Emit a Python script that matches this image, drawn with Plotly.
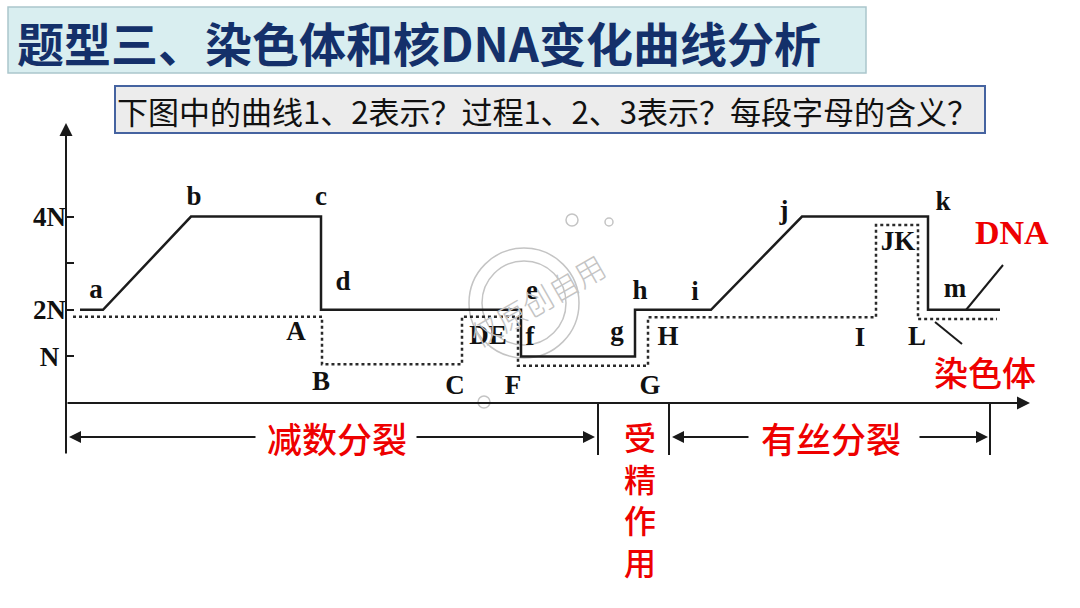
import plotly.graph_objects as go

# ---------------- data (x: time units, y: multiples of N) ----------------
dna_x = [1.4, 3.7, 12.5, 25.5, 25.5, 45.5, 45.5, 56.9, 56.9, 64.5, 73.6, 86.2, 86.2, 93.4]
dna_y = [2, 2, 4, 4, 2, 2, 1, 1, 2, 2, 4, 4, 2, 2]

chrom_x = [0.7, 25.6, 25.6, 39.6, 39.6, 45.2, 45.2, 58.2, 58.2, 81.0, 81.0, 85.2, 85.2, 93.1]
chrom_y = [1.85, 1.85, 0.83, 0.83, 1.85, 1.85, 0.80, 0.80, 1.84, 1.84, 3.82, 3.82, 1.80, 1.80]

y_tick_vals = [1, 2, 3, 4]
y_tick_text = ["N ", "2N", "", "4N"]

letters = ["a", "b", "c", "d", "A", "B", "C", "DE", "e", "f", "F", "g", "h", "H", "G",
           "i", "j", "k", "JK", "I", "L", "m"]
letter_x = [3.0, 12.8, 25.5, 27.7, 23.0, 25.5, 38.9, 42.2, 46.6, 46.4, 44.7, 55.1, 57.4, 60.2, 58.4,
            62.9, 71.8, 87.7, 83.2, 79.4, 85.1, 88.9]
letter_y = [2.40, 4.40, 4.40, 2.58, 1.50, 0.43, 0.34, 1.42, 2.38, 1.39, 0.34, 1.50, 2.38, 1.39, 0.34,
            2.36, 4.10, 4.29, 3.43, 1.37, 1.39, 2.42]

phase_bounds = [0.0, 53.2, 60.3, 92.4]
title_text = "题型三、染色体和核DNA变化曲线分析"
question_text = "下图中的曲线1、2表示？过程1、2、3表示？每段字母的含义？"

# ---------------- pixel mapping helpers (layout only) ----------------
W, H = 1080, 608
X0PX, XSCALE = 66.0, 10.0      # px of x=0, px per unit
Y0PX, YSCALE = 403.0, 46.6     # px of y=0, px per N
xr = [(0 - X0PX) / XSCALE, (W - X0PX) / XSCALE]
yr = [(Y0PX - H) / YSCALE, Y0PX / YSCALE]

def ux(px):
    return (px - X0PX) / XSCALE

def uy(py):
    return (Y0PX - py) / YSCALE

def px_(p):
    return p / W

def py_(p):
    return 1 - p / H

fig = go.Figure()

# DNA curve (solid) and chromosome curve (dotted)
fig.add_trace(go.Scatter(x=dna_x, y=dna_y, mode="lines",
                         line=dict(color="#1c1c1c", width=2.5), hoverinfo="skip"))
fig.add_trace(go.Scatter(x=chrom_x, y=chrom_y, mode="lines",
                         line=dict(color="#2a2a2a", width=2.5, dash="dot"), hoverinfo="skip"))

# letters
fig.add_trace(go.Scatter(x=letter_x, y=letter_y, mode="text", text=letters,
                         textposition="middle center", cliponaxis=False,
                         textfont=dict(family="Liberation Serif", size=27, color="#111111", weight="bold"),
                         hoverinfo="skip"))

shapes = []
annotations = []

# title box
shapes.append(dict(type="rect", xref="paper", yref="paper",
                   x0=px_(8), x1=px_(866), y0=py_(73), y1=py_(7),
                   fillcolor="#d9eef0", line=dict(color="#aac6cc", width=1.5), layer="below"))
annotations.append(dict(xref="paper", yref="paper", x=px_(15), y=py_(42), xanchor="left", yanchor="middle",
                        text=title_text, showarrow=False,
                        font=dict(family="Noto Sans CJK SC", size=47, color="#14306a", weight="bold")))

# question box
shapes.append(dict(type="rect", xref="paper", yref="paper",
                   x0=px_(115), x1=px_(985), y0=py_(133), y1=py_(86),
                   fillcolor="#ececec", line=dict(color="#4563a0", width=2), layer="below"))
annotations.append(dict(xref="paper", yref="paper", x=px_(547), y=py_(110), xanchor="center", yanchor="middle",
                        text=question_text, showarrow=False,
                        font=dict(family="Noto Sans CJK SC", size=31, color="#111111")))

# watermark (faint)
wm = "#c4c4c4"
for cx, cy, r in [(524, 303, 55), (524, 303, 42), (572, 220, 6), (609, 222, 4), (484, 402, 6)]:
    shapes.append(dict(type="circle", xref="x", yref="y",
                       x0=ux(cx - r), x1=ux(cx + r), y0=uy(cy + r), y1=uy(cy - r),
                       line=dict(color=wm, width=1.5), layer="below"))
annotations.append(dict(x=ux(537), y=uy(300), text="仅原创自用", showarrow=False, textangle=-30,
                        font=dict(family="Noto Sans CJK SC", size=30, color=wm, weight=300)))

# axes (arrows)
annotations.append(dict(x=0, y=uy(123), ax=0, ay=uy(455), xref="x", yref="y", axref="x", ayref="y",
                        text="", showarrow=True, arrowhead=2, arrowsize=1.3, arrowwidth=2,
                        arrowcolor="#1a1a1a", standoff=0, startstandoff=0))
annotations.append(dict(x=ux(1030), y=0, ax=0, ay=0, xref="x", yref="y", axref="x", ayref="y",
                        text="", showarrow=True, arrowhead=2, arrowsize=1.3, arrowwidth=2,
                        arrowcolor="#1a1a1a", standoff=0))

# phase boundary lines
for b in phase_bounds[1:]:
    shapes.append(dict(type="line", xref="x", yref="y", x0=b, x1=b, y0=0, y1=uy(455),
                       line=dict(color="#1a1a1a", width=2)))

# phase arrows
ya = uy(437)
for head, tail in [(ux(69), ux(257)), (ux(595), ux(415)), (ux(672), ux(750)), (ux(988), ux(918))]:
    annotations.append(dict(x=head, y=ya, ax=tail, ay=ya, xref="x", yref="y", axref="x", ayref="y",
                            text="", showarrow=True, arrowhead=2, arrowsize=1.2, arrowwidth=2,
                            arrowcolor="#1a1a1a", standoff=0))

red = "#ee0000"
cjk_red = dict(family="Noto Sans CJK SC", size=35, color=red, weight=500)
annotations.append(dict(x=ux(337), y=ya, text="减数分裂", showarrow=False, font=cjk_red))
annotations.append(dict(x=ux(831), y=ya, text="有丝分裂", showarrow=False, font=cjk_red))
annotations.append(dict(x=ux(640), y=uy(498), text="<br>".join("受精作用"), showarrow=False,
                        yanchor="middle", align="center",
                        font=dict(family="Noto Sans CJK SC", size=32, color=red, weight=500)))

# curve labels with leaders
shapes.append(dict(type="line", xref="x", yref="y", x0=ux(966), y0=uy(310), x1=ux(1003), y1=uy(265),
                   line=dict(color="#1a1a1a", width=2)))
shapes.append(dict(type="line", xref="x", yref="y", x0=ux(935), y0=uy(322), x1=ux(962), y1=uy(344),
                   line=dict(color="#1a1a1a", width=2)))
annotations.append(dict(x=ux(1012), y=uy(232), text="DNA", showarrow=False,
                        font=dict(family="Liberation Serif", size=34, color=red, weight="bold")))
annotations.append(dict(x=ux(985), y=uy(371), text="染色体", showarrow=False,
                        font=dict(family="Noto Sans CJK SC", size=34, color=red, weight=500)))

fig.update_layout(
    width=W, height=H, autosize=False,
    margin=dict(l=0, r=0, t=0, b=0, pad=0),
    paper_bgcolor="white", plot_bgcolor="white",
    showlegend=False,
    shapes=shapes, annotations=annotations,
    xaxis=dict(range=xr, visible=False, fixedrange=True),
    yaxis=dict(range=yr, anchor="free", position=X0PX / W, side="left",
               showgrid=False, zeroline=False, showline=False,
               tickmode="array", tickvals=y_tick_vals, ticktext=y_tick_text,
               ticks="inside", ticklen=7, tickwidth=2, tickcolor="#1a1a1a",
               tickfont=dict(family="Liberation Serif", size=27, color="#111111", weight="bold"),
               fixedrange=True),
)

fig.write_html("out.html", config={"displayModeBar": False},
               post_script="document.body.style.margin='0';document.body.style.overflow='hidden';")
